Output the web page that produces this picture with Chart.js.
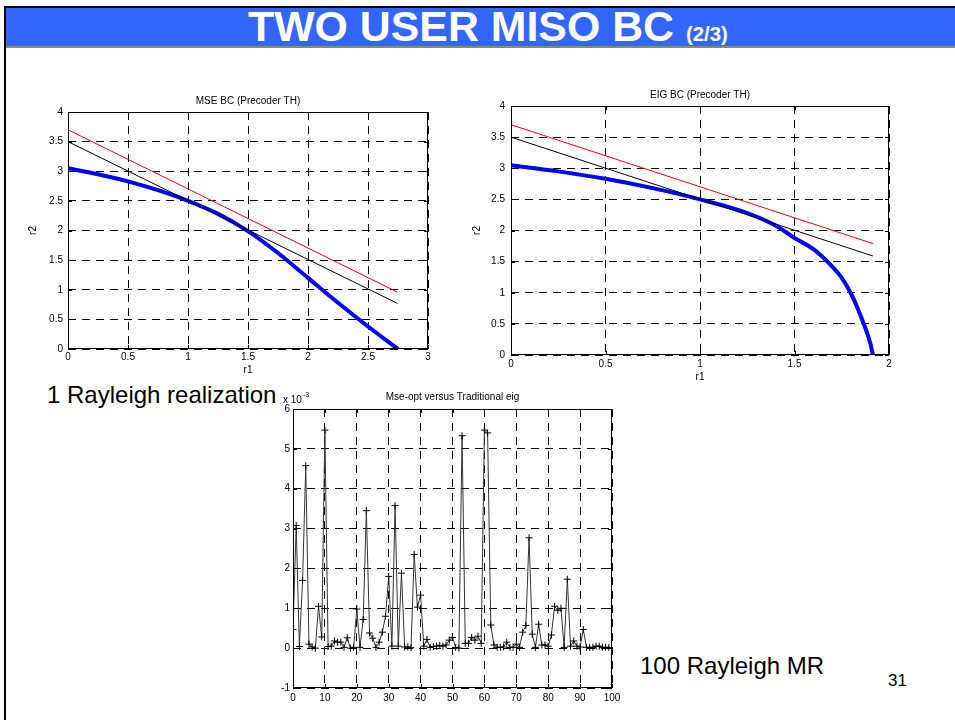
<!DOCTYPE html>
<html lang="en">
<head>
  <meta charset="UTF-8">
  <title>Two User MISO BC</title>
  <script src="https://cdn.jsdelivr.net/npm/chart.js"></script>
  <style>
    body { margin: 0; width: 955px; height: 720px; background: #fff; position: relative; overflow: hidden;
           font-family: "Liberation Sans", Arial, sans-serif; }
    #frame-top { position: absolute; left: 4px; top: 6px; width: 951px; height: 2px; background: #000; }
    #frame-left { position: absolute; left: 4px; top: 6px; width: 2px; height: 714px; background: #000; }
    #title-bar { position: absolute; left: 6px; top: 8px; width: 949px; height: 38px; background: #3366ff;
                 border-bottom: 2px solid #888; }
    #title-text { position: absolute; left: 242px; top: -2px; line-height: 42px; color: #fff; font-weight: bold;
                  font-size: 42px; white-space: nowrap; transform-origin: left center; transform: scaleX(1.02); }
    #title-text small { font-size: 20px; }
    .note { position: absolute; color: #000; white-space: nowrap; }
    canvas { position: absolute; }
  </style>
</head>
<body>
  <div id="frame-top"></div>
  <div id="frame-left"></div>
  <div id="title-bar"><span id="title-text">TWO USER MISO BC <small>(2/3)</small></span></div>

  <div class="note" style="left:47px; top:381px; font-size:24px;">1 Rayleigh realization</div>
  <div class="note" style="left:640px; top:652px; font-size:24px;">100 Rayleigh MR</div>
  <div class="note" style="left:888px; top:671px; font-size:17px;">31</div>

  <canvas id="mseChart" width="425" height="300" style="left:20px; top:85px;"></canvas>
  <canvas id="eigChart" width="440" height="305" style="left:465px; top:82px;"></canvas>
  <canvas id="diffChart" width="370" height="330" style="left:260px; top:385px;"></canvas>

  <script>
    // MSE BC (Precoder TH) - rate regions
    const mseBlueR1 = [0, 0.25, 0.5, 0.75, 1.0, 1.25, 1.5, 1.75, 2.0, 2.25, 2.5, 2.75];
    const mseBlueR2 = [3.05, 2.95, 2.83, 2.68, 2.5, 2.28, 1.99, 1.62, 1.2, 0.78, 0.38, 0];
    const mseRedR1 = [0, 2.745];
    const mseRedR2 = [3.7, 0.96];
    const mseBlackR1 = [0, 2.745];
    const mseBlackR2 = [3.5, 0.77];

    // EIG BC (Precoder TH)
    const eigBlueR1 = [0, 0.25, 0.5, 0.75, 1.0, 1.25, 1.4, 1.5, 1.6, 1.7, 1.75, 1.8, 1.85, 1.9, 1.915];
    const eigBlueR2 = [3.05, 2.95, 2.83, 2.68, 2.5, 2.28, 2.08, 1.88, 1.7, 1.42, 1.24, 0.98, 0.63, 0.2, 0];
    const eigRedR1 = [0, 1.915];
    const eigRedR2 = [3.7, 1.79];
    const eigBlackR1 = [0, 1.915];
    const eigBlackR2 = [3.5, 1.59];

    // Mse-opt versus Traditional eig (x 10^-3), 100 realizations
    const diffValues = [
      0.47, 3.08, 0.04, 1.7, 4.58, 0.1, 0.03, 0.0, 1.05, 0.28,
      5.47, 0.04, 0.05, 0.18, 0.15, 0.15, 0.02, 0.26, 0.0, 0.02,
      0.98, 0.02, 0.72, 3.45, 0.38, 0.25, 0.02, 0.15, 0.4, 0.8,
      1.8, 0.05, 3.58, 0.05, 1.88, 0.03, 0.03, 0.01, 2.35, 1.03,
      1.33, 0.05, 0.22, 0.02, 0.04, 0.05, 0.07, 0.05, 0.08, 0.2,
      0.27, 0.02, 0.0, 5.33, 0.12, 0.12, 0.27, 0.2, 0.3, 0.12,
      5.47, 5.4, 0.58, 0.08, 0.02, 0.02, 0.03, 0.15, 0.02, 0.02,
      0.1, 0.02, 0.4, 0.57, 2.77, 0.35, 0.02, 0.6, 0.08, 0.08,
      0.05, 0.33, 1.05, 0.95, 1.0, 0.02, 1.73, 0.05, 0.18, 0.05,
      0.03, 0.47, 0.02, 0.02, 0.02, 0.05, 0.05, 0.02, 0.02, 0.02
    ];
    const diffIndex = diffValues.map((v, i) => i);

    const FONT = '"Liberation Sans", Arial, sans-serif';
    Chart.defaults.font.family = FONT;
    Chart.defaults.font.size = 10;
    Chart.defaults.color = '#000';

    const pts = (xs, ys) => xs.map((x, i) => ({ x: x, y: ys[i] }));

    // box, inner ticks and axes title like a matlab figure
    const framePlugin = {
      id: 'frame',
      afterDraw(chart, args, opts) {
        const { ctx, chartArea: a } = chart;
        const sx = chart.scales.x, sy = chart.scales.y;
        ctx.save();
        ctx.strokeStyle = '#000';
        ctx.lineWidth = 1;
        ctx.setLineDash([]);
        ctx.strokeRect(a.left + 0.5, a.top + 0.5, a.right - a.left - 1, a.bottom - a.top - 1);
        ctx.beginPath();
        sx.ticks.forEach(t => {
          const px = Math.round(sx.getPixelForValue(t.value)) + 0.5;
          ctx.moveTo(px, a.bottom); ctx.lineTo(px, a.bottom - 4);
          ctx.moveTo(px, a.top); ctx.lineTo(px, a.top + 4);
        });
        sy.ticks.forEach(t => {
          const py = Math.round(sy.getPixelForValue(t.value)) + 0.5;
          ctx.moveTo(a.left, py); ctx.lineTo(a.left + 4, py);
          ctx.moveTo(a.right, py); ctx.lineTo(a.right - 4, py);
        });
        ctx.stroke();
        ctx.fillStyle = '#000';
        ctx.font = '10px ' + FONT;
        ctx.textAlign = 'center';
        ctx.textBaseline = 'middle';
        ctx.fillText(opts.title, (a.left + a.right) / 2, opts.titleY);
        if (opts.exponent) {
          ctx.textAlign = 'left';
          ctx.fillText('x 10', opts.exponent.x, opts.exponent.y);
          const w = ctx.measureText('x 10').width;
          ctx.font = '7px ' + FONT;
          ctx.fillText('-3', opts.exponent.x + w + 1, opts.exponent.y - 5);
        }
        ctx.restore();
      }
    };

    function axis(min, max, step, size, horizontal, label, labelPad, tickPad) {
      return {
        type: 'linear',
        min: min,
        max: max,
        ticks: { stepSize: step, padding: tickPad, maxRotation: 0, autoSkip: false,
                 callback: v => String(Math.round(v * 10) / 10) },
        grid: { color: '#000', lineWidth: 1, drawTicks: false },
        border: { display: false, dash: [8, 6] },
        title: label ? { display: true, text: label, font: { size: 10 }, padding: labelPad } : { display: false },
        afterFit: horizontal ? (s => { s.height = size; }) : (s => { s.width = size; })
      };
    }

    function regionChart(id, blue, red, black, xMax, pad, yWidth, xHeight, title, titleY, yLabelPad, xLabelPad, yTickPad, xTickPad) {
      new Chart(document.getElementById(id), {
        type: 'scatter',
        data: {
          datasets: [
            { data: red, showLine: true, borderColor: '#ff0000', borderWidth: 1, pointRadius: 0 },
            { data: black, showLine: true, borderColor: '#000000', borderWidth: 1, pointRadius: 0 },
            { data: blue, showLine: true, borderColor: '#0000ff', borderWidth: 4, pointRadius: 0,
              cubicInterpolationMode: 'monotone' }
          ]
        },
        options: {
          responsive: false,
          animation: false,
          layout: { padding: pad },
          plugins: {
            legend: { display: false },
            tooltip: { enabled: false },
            frame: { title: title, titleY: titleY }
          },
          scales: {
            x: axis(0, xMax, 0.5, xHeight, true, 'r1', { top: 0, bottom: xLabelPad }, xTickPad),
            y: axis(0, 4, 0.5, yWidth, false, 'r2', { top: yLabelPad, bottom: 0 }, yTickPad)
          }
        },
        plugins: [framePlugin]
      });
    }

    regionChart('mseChart', pts(mseBlueR1, mseBlueR2), pts(mseRedR1, mseRedR2), pts(mseBlackR1, mseBlackR2),
      3, { top: 27, right: 17, left: 0, bottom: 0 }, 48, 36, 'MSE BC (Precoder TH)', 16, 7, 9, 5, 2);

    regionChart('eigChart', pts(eigBlueR1, eigBlueR2), pts(eigRedR1, eigRedR2), pts(eigBlackR1, eigBlackR2),
      2, { top: 24, right: 16, left: 0, bottom: 0 }, 46, 32, 'EIG BC (Precoder TH)', 13, 6, 4, 6, 3);

    new Chart(document.getElementById('diffChart'), {
      type: 'scatter',
      data: {
        datasets: [{
          data: pts(diffIndex, diffValues),
          showLine: true,
          borderColor: '#333',
          borderWidth: 1,
          pointStyle: 'cross',
          pointRadius: 3.5,
          pointBorderColor: '#000',
          pointBorderWidth: 1
        }]
      },
      options: {
        responsive: false,
        animation: false,
        layout: { padding: { top: 24, right: 18, left: 0, bottom: 0 } },
        plugins: {
          legend: { display: false },
          tooltip: { enabled: false },
          frame: { title: 'Mse-opt versus Traditional eig', titleY: 12, exponent: { x: 23, y: 15 } }
        },
        scales: {
          x: axis(0, 100, 10, 27, true, null, 0, 4),
          y: axis(-1, 6, 1, 33, false, null, 0, 3)
        }
      },
      plugins: [framePlugin]
    });
  </script>
</body>
</html>
